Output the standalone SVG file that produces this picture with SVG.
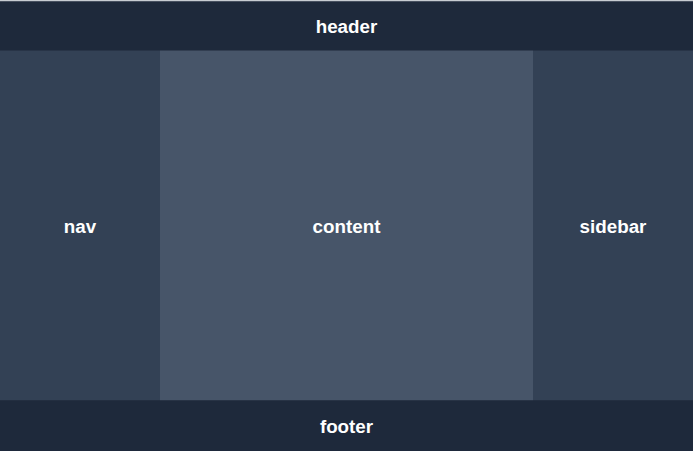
<svg xmlns="http://www.w3.org/2000/svg" width="693" height="451" viewBox="0 0 693 451">
<style>
.lbl{font-family:"Liberation Sans",Arial,sans-serif;font-weight:bold;font-size:18.8px;fill:#ffffff;text-anchor:middle;dominant-baseline:central}
.dark{fill:#1e293b}
.mid{fill:#334155}
.light{fill:#475569}
</style>
<rect x="0" y="0" width="693" height="451" fill="#1e293b"/>
<rect x="0" y="0" width="693" height="1.5" fill="#c8ccd2"/>
<g id="header"><rect class="dark" x="0" y="1.5" width="693" height="49"/><text class="lbl" x="346.5" y="26">header</text></g>
<g id="nav"><rect class="mid" x="0" y="50.5" width="160" height="350"/><text class="lbl" x="80" y="226">nav</text></g>
<g id="content"><rect class="light" x="160" y="50.5" width="373" height="350"/><text class="lbl" x="346.5" y="226">content</text></g>
<g id="sidebar"><rect class="mid" x="533" y="50.5" width="160" height="350"/><text class="lbl" x="613" y="226">sidebar</text></g>
<g id="footer"><rect class="dark" x="0" y="400.5" width="693" height="50.5"/><text class="lbl" x="346.5" y="426">footer</text></g>
<g id="connectors"/>
</svg>
